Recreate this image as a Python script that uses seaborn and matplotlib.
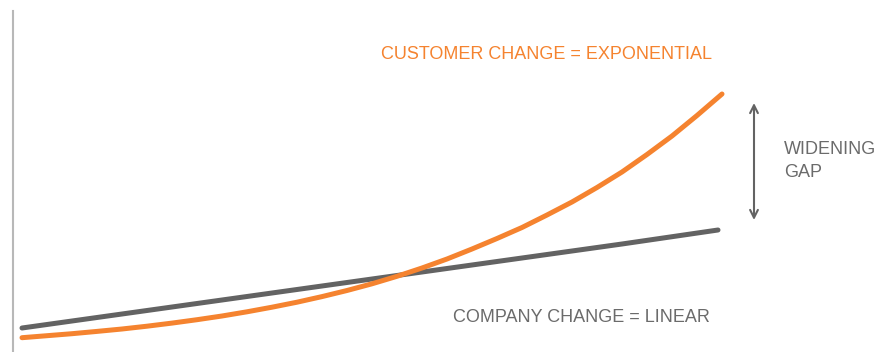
import numpy as np
import pandas as pd
import matplotlib
matplotlib.use("Agg")
import matplotlib.pyplot as plt
import seaborn as sns

# time steps and levels
steps    = [0, 0.5, 1, 1.5, 2, 2.5, 3, 3.5, 4, 4.5, 5, 5.5, 6, 6.5, 7,
            7.5, 8, 8.5, 9, 9.5, 10, 10.5, 11, 11.5, 12, 12.5, 13, 13.5, 14]
customer = [14.3, 16.3, 18.3, 20.6, 23.0, 25.8, 28.9, 32.3, 36.0, 40.2, 44.8,
            49.8, 55.4, 61.5, 68.2, 75.7, 84.0, 93.0, 103.0, 113.5, 124.5,
            137.0, 150.0, 164.5, 180.0, 197.5, 216.0, 236.5, 258.0]
company_steps = [0, 2, 4, 6, 8, 10, 12, 13.92]
company  = [24, 38, 52, 66, 80, 94, 108, 122]

ORANGE = "#F5832F"
GRAY   = "#636363"
TEXT_GRAY = "#6b6b6b"

sns.set_style("white")
plt.rcParams['font.family'] = ['Liberation Sans', 'DejaVu Sans']

df = pd.concat([
    pd.DataFrame({'step': steps, 'level': customer, 'series': 'customer'}),
    pd.DataFrame({'step': company_steps, 'level': company, 'series': 'company'}),
])

fig = plt.figure(figsize=(8.88, 3.52), dpi=100)
ax = fig.add_axes([12.5/888, 0, 1 - 12.5/888, 341/352])

sns.lineplot(data=df, x='step', y='level', hue='series',
             palette={'customer': ORANGE, 'company': GRAY},
             hue_order=['company', 'customer'],
             linewidth=3.6, legend=False, ax=ax, sort=False)
for line in ax.lines:
    line.set_solid_capstyle('round')
    line.set_solid_joinstyle('round')

ax.set_xlim(-0.19, 17.32)
ax.set_ylim(0, 341)
ax.set_xticks([]); ax.set_yticks([])
ax.set_xlabel(''); ax.set_ylabel('')
for s in ['top', 'right', 'bottom']:
    ax.spines[s].set_visible(False)
ax.spines['left'].set_color('#b8b8b8')
ax.spines['left'].set_linewidth(1.5)

ax.text(7.18, 297.5, 'CUSTOMER CHANGE = EXPONENTIAL', color=ORANGE,
        fontsize=13, ha='left', va='center')
ax.text(8.62, 35, 'COMPANY CHANGE = LINEAR', color=TEXT_GRAY,
        fontsize=13, ha='left', va='center')
ax.text(15.24, 191, 'WIDENING\nGAP', color=TEXT_GRAY,
        fontsize=13, ha='left', va='center', linespacing=1.4)

ax.annotate('', xy=(14.64, customer[-1] - 9), xytext=(14.64, company[-1] + 10),
            arrowprops=dict(arrowstyle='<->', color=GRAY, lw=1.5,
                            mutation_scale=14, shrinkA=0, shrinkB=0))

fig.savefig('out.png', dpi=100)
